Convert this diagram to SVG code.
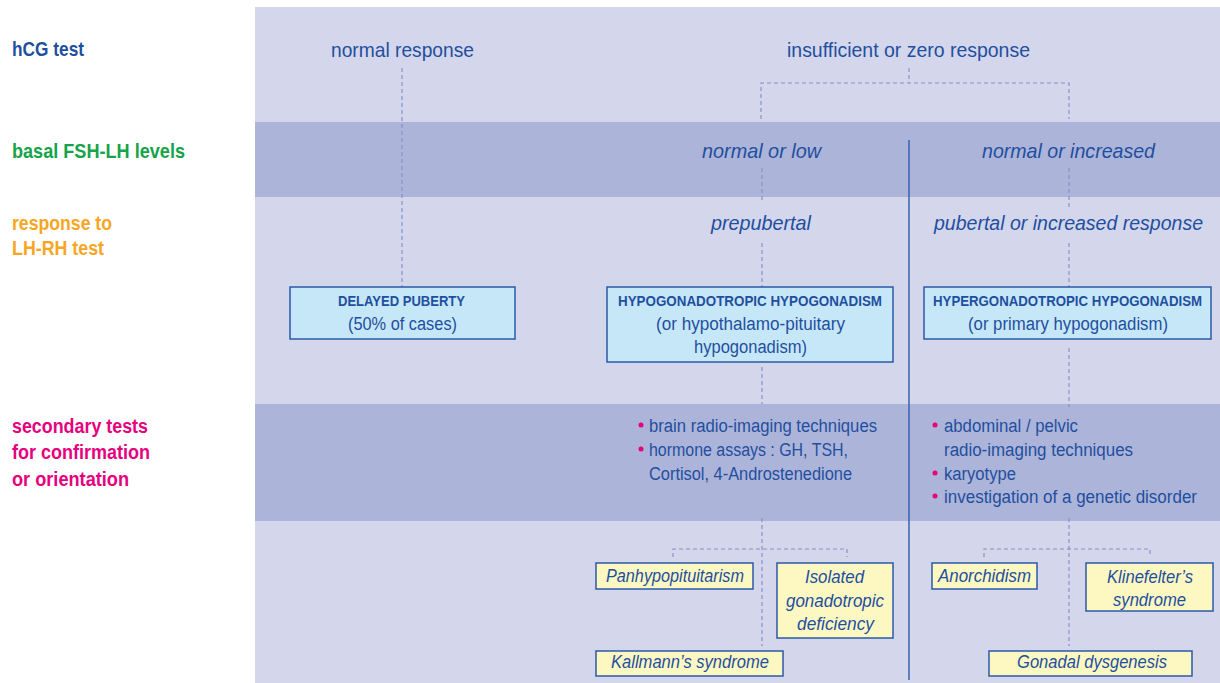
<svg xmlns="http://www.w3.org/2000/svg" width="1220" height="683" viewBox="0 0 1220 683">
<style>
text{font-family:"Liberation Sans",Arial,sans-serif;fill:#1f4f9f}
.lab{font-weight:bold;font-size:21px}
.lab2{font-weight:bold;font-size:20px}
.top{font-size:21px}
.it{font-size:21px;font-style:italic}
.bb{font-weight:bold;font-size:14px}
.br{font-size:18px}
.bul{font-size:18px}
.yl{font-size:19px;font-style:italic}
.box{fill:#c6e7f8;stroke:#2a5aa8;stroke-width:1.5}
.ybox{fill:#fdf8c2;stroke:#2a5aa8;stroke-width:1.5}
.dash{fill:none;stroke:#8891c8;stroke-width:1.2;stroke-dasharray:4 3}
.dot{fill:#e6007e}
</style>
<rect x="0" y="0" width="1220" height="683" fill="#ffffff"/>
<g id="background">
<rect x="255" y="7" width="965" height="676" fill="#d4d6eb"/>
<rect x="255" y="122" width="965" height="75" fill="#adb4d9"/>
<rect x="255" y="404" width="965" height="117" fill="#adb4d9"/>
</g>
<g id="row-labels">
<text class="lab" x="12" y="56" textLength="72" lengthAdjust="spacingAndGlyphs">hCG test</text>
<text class="lab" x="12" y="158" textLength="173" lengthAdjust="spacingAndGlyphs" style="fill:#16a34a">basal FSH-LH levels</text>
<text class="lab" x="12" y="230" textLength="100" lengthAdjust="spacingAndGlyphs" style="fill:#f6a623">response to</text>
<text class="lab" x="12" y="255" textLength="92" lengthAdjust="spacingAndGlyphs" style="fill:#f6a623">LH-RH test</text>
<text class="lab2" x="12" y="433" textLength="136" lengthAdjust="spacingAndGlyphs" style="fill:#e6007e">secondary tests</text>
<text class="lab2" x="12" y="459" textLength="138" lengthAdjust="spacingAndGlyphs" style="fill:#e6007e">for confirmation</text>
<text class="lab2" x="12" y="486" textLength="117" lengthAdjust="spacingAndGlyphs" style="fill:#e6007e">or orientation</text>
</g>
<g id="connectors">
<line x1="909" y1="140" x2="909" y2="680" stroke="#3a62b0" stroke-width="1.5"/>
<path class="dash" d="M402 68V287"/>
<path class="dash" d="M909 68V83M761 119V83H1069V119"/>
<path class="dash" d="M762 168V202M762 243V287M1069 168V208M1069 243V287"/>
<path class="dash" d="M762 367V404M1069 348V407"/>
<path class="dash" d="M762 518V646M1069 518V646"/>
<path class="dash" d="M673 557V549H847V557M984 557V549H1150V557"/>
</g>
<g id="hcg-normal">
<text class="top" x="331" y="57" textLength="143" lengthAdjust="spacingAndGlyphs">normal response</text>
</g>
<g id="hcg-insufficient">
<text class="top" x="787" y="57" textLength="243" lengthAdjust="spacingAndGlyphs">insufficient or zero response</text>
</g>
<g id="fsh-normal-low">
<text class="it" x="702" y="158" textLength="119" lengthAdjust="spacingAndGlyphs">normal or low</text>
</g>
<g id="fsh-normal-increased">
<text class="it" x="982" y="158" textLength="173" lengthAdjust="spacingAndGlyphs">normal or increased</text>
</g>
<g id="lhrh-prepubertal">
<text class="it" x="711" y="230" textLength="100" lengthAdjust="spacingAndGlyphs">prepubertal</text>
</g>
<g id="lhrh-pubertal">
<text class="it" x="934" y="230" textLength="269" lengthAdjust="spacingAndGlyphs" style="font-size:19.5px">pubertal or increased response</text>
</g>
<g id="delayed-puberty">
<rect class="box" x="290" y="287" width="225" height="52"/>
<text class="bb" x="338" y="306" textLength="127" lengthAdjust="spacingAndGlyphs">DELAYED PUBERTY</text>
<text class="br" x="348" y="330" textLength="109" lengthAdjust="spacingAndGlyphs">(50% of cases)</text>
</g>
<g id="hypogonadotropic">
<rect class="box" x="607" y="287" width="286" height="75"/>
<text class="bb" x="618" y="306" textLength="264" lengthAdjust="spacingAndGlyphs">HYPOGONADOTROPIC HYPOGONADISM</text>
<text class="br" x="656" y="330" textLength="189" lengthAdjust="spacingAndGlyphs">(or hypothalamo-pituitary</text>
<text class="br" x="694" y="353" textLength="113" lengthAdjust="spacingAndGlyphs">hypogonadism)</text>
</g>
<g id="hypergonadotropic">
<rect class="box" x="924" y="287" width="287" height="52"/>
<text class="bb" x="933" y="306" textLength="269" lengthAdjust="spacingAndGlyphs">HYPERGONADOTROPIC HYPOGONADISM</text>
<text class="br" x="968" y="330" textLength="200" lengthAdjust="spacingAndGlyphs">(or primary hypogonadism)</text>
</g>
<g id="tests-left">
<circle class="dot" cx="641" cy="425" r="2.5"/>
<circle class="dot" cx="641" cy="449" r="2.5"/>
<text class="bul" x="649" y="432" textLength="228" lengthAdjust="spacingAndGlyphs">brain radio-imaging techniques</text>
<text class="bul" x="649" y="456" textLength="199" lengthAdjust="spacingAndGlyphs">hormone assays : GH, TSH,</text>
<text class="bul" x="649" y="480" textLength="203" lengthAdjust="spacingAndGlyphs">Cortisol, 4-Androstenedione</text>
</g>
<g id="tests-right">
<circle class="dot" cx="935" cy="425" r="2.5"/>
<circle class="dot" cx="935" cy="473" r="2.5"/>
<circle class="dot" cx="935" cy="496" r="2.5"/>
<text class="bul" x="944" y="432" textLength="134" lengthAdjust="spacingAndGlyphs">abdominal / pelvic</text>
<text class="bul" x="944" y="456" textLength="189" lengthAdjust="spacingAndGlyphs">radio-imaging techniques</text>
<text class="bul" x="944" y="480" textLength="72" lengthAdjust="spacingAndGlyphs">karyotype</text>
<text class="bul" x="944" y="503" textLength="253" lengthAdjust="spacingAndGlyphs">investigation of a genetic disorder</text>
</g>
<g id="panhypopituitarism">
<rect class="ybox" x="596" y="563" width="157" height="26"/>
<text class="yl" x="606" y="582" textLength="138" lengthAdjust="spacingAndGlyphs">Panhypopituitarism</text>
</g>
<g id="isolated-deficiency">
<rect class="ybox" x="777" y="563" width="116" height="75"/>
<text class="yl" x="805" y="583" textLength="59" lengthAdjust="spacingAndGlyphs">Isolated</text>
<text class="yl" x="786" y="607" textLength="98" lengthAdjust="spacingAndGlyphs">gonadotropic</text>
<text class="yl" x="797" y="630" textLength="77" lengthAdjust="spacingAndGlyphs">deficiency</text>
</g>
<g id="kallmann">
<rect class="ybox" x="596" y="651" width="187" height="25"/>
<text class="yl" x="611" y="668" textLength="158" lengthAdjust="spacingAndGlyphs">Kallmann’s syndrome</text>
</g>
<g id="anorchidism">
<rect class="ybox" x="932" y="563" width="105" height="26"/>
<text class="yl" x="938" y="582" textLength="93" lengthAdjust="spacingAndGlyphs">Anorchidism</text>
</g>
<g id="klinefelter">
<rect class="ybox" x="1086" y="563" width="127" height="48"/>
<text class="yl" x="1107" y="583" textLength="86" lengthAdjust="spacingAndGlyphs">Klinefelter’s</text>
<text class="yl" x="1113" y="606" textLength="73" lengthAdjust="spacingAndGlyphs">syndrome</text>
</g>
<g id="gonadal-dysgenesis">
<rect class="ybox" x="989" y="651" width="203" height="25"/>
<text class="yl" x="1017" y="668" textLength="150" lengthAdjust="spacingAndGlyphs">Gonadal dysgenesis</text>
</g>
</svg>
